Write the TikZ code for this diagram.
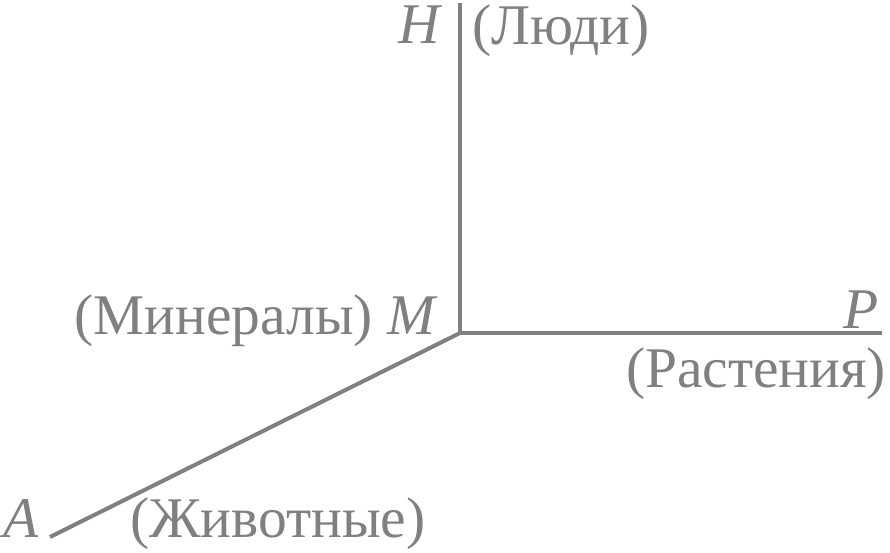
\documentclass[tikz,border=0pt]{standalone}
\usepackage{fontspec}
\setmainfont{Liberation Serif}
\definecolor{ax}{HTML}{808080}
\begin{document}
\begin{tikzpicture}[x=1pt,y=-1pt,
  lab/.style={inner sep=0pt,outer sep=0pt,text=ax,font=\fontsize{57.5}{60}\selectfont},
  axis/.style={draw=ax,line width=4pt}]
\useasboundingbox (0,0) rectangle (890,552);
\coordinate (O) at (460,333);
\coordinate (Htop) at (460,3);
\coordinate (Pend) at (882,333);
\coordinate (Aend) at (50,537);
\draw[axis] (Htop) -- (O) -- (Pend);
\draw[axis] (O) -- (Aend);
\node[lab,anchor=base east] (H) at (440,43) {\itshape H};
\node[lab,anchor=base west] (hum) at (472,44) {(Люди)};
\node[lab,anchor=base east] (M) at (438,334) {(Минералы) \textit{M}};
\node[lab,anchor=base east] (P) at (879,328) {\itshape P};
\node[lab,anchor=base east] (pl) at (886,387) {(Растения)};
\node[lab,anchor=base west] (A) at (4,537) {\itshape A};
\node[lab,anchor=base west] (an) at (130,537) {(Животные)};
\end{tikzpicture}
\end{document}
